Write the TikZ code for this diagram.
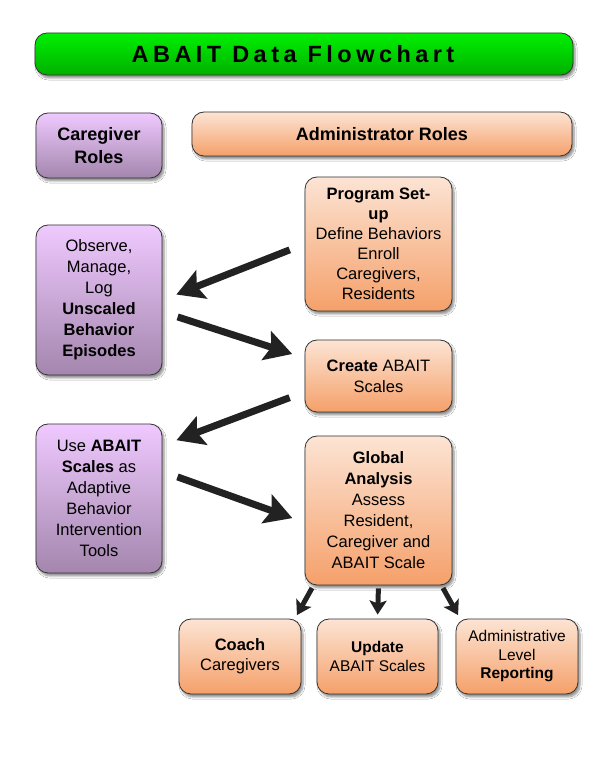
\documentclass[tikz,border=0pt]{standalone}
\usepackage{fontspec}
\setmainfont{Liberation Sans}
\newfontfamily\titlefont{Liberation Sans}[LetterSpace=19]
\usetikzlibrary{arrows.meta,shadows.blur,calc}
\definecolor{orTop}{HTML}{FCE4D4}
\definecolor{orBot}{HTML}{F5A06A}
\definecolor{puTop}{HTML}{EFC9FF}
\definecolor{puBot}{HTML}{A386AD}
\definecolor{grTop}{HTML}{00F000}
\definecolor{grBot}{HTML}{00B000}
\definecolor{arrowc}{HTML}{222222}
\begin{document}
\begin{tikzpicture}[x=1pt,y=1pt,
  box/.style={draw=black!80, line width=0.8pt, rounded corners=12pt, align=center, inner sep=2pt,
    blur shadow={shadow xshift=2pt,shadow yshift=-3pt,shadow blur steps=6,shadow opacity=45}},
  orangebox/.style={box, top color=orTop, bottom color=orBot},
  purplebox/.style={box, top color=puTop, bottom color=puBot},
  greenbox/.style={box, top color=grTop, bottom color=grBot},
  bodyfont/.style={font=\fontsize{16.5}{21}\selectfont},
  smallfont/.style={font=\fontsize{15.5}{18.5}\selectfont},
  bigarrow/.style={draw=arrowc, line width=7pt, -{Stealth[length=27pt,width=30pt,inset=5pt]}},
  smallarrow/.style={draw=arrowc, line width=5pt, -{Stealth[length=14pt,width=17pt,inset=3pt]}}
]
\useasboundingbox (0,0) rectangle (600,776);
\fill[white] (0,0) rectangle (600,776);

\node[greenbox, minimum width=538pt, minimum height=42pt] (title) at (304,722)
  {\titlefont\bfseries\fontsize{23.5}{27}\selectfont ABAIT Data Flowchart\hspace*{22pt}};

\node[purplebox, minimum width=126pt, minimum height=65pt, font=\fontsize{18}{23}\selectfont\bfseries] (care) at (99,630.5)
  {Caregiver\\Roles};
\node[orangebox, minimum width=380pt, minimum height=44pt, font=\fontsize{18}{23}\selectfont\bfseries] (admin) at (382,642)
  {Administrator Roles};

\node[orangebox, minimum width=147pt, minimum height=134pt, font=\fontsize{16.5}{20}\selectfont] (setup) at (378.5,532)
  {\textbf{Program Set-}\\\textbf{up}\\Define Behaviors\\Enroll\\Caregivers,\\Residents};

\node[purplebox, minimum width=126pt, minimum height=150pt, bodyfont] (observe) at (99,476)
  {Observe,\\Manage,\\Log\\\textbf{Unscaled}\\\textbf{Behavior}\\\textbf{Episodes}};

\node[orangebox, minimum width=147pt, minimum height=72pt, bodyfont] (create) at (378.5,400)
  {\textbf{Create} ABAIT\\Scales};

\node[purplebox, minimum width=126pt, minimum height=149pt, bodyfont] (use) at (99,277.5)
  {Use \textbf{ABAIT}\\\textbf{Scales} as\\Adaptive\\Behavior\\Intervention\\Tools};

\node[orangebox, minimum width=147pt, minimum height=149pt, bodyfont] (global) at (378.5,265.5)
  {\textbf{Global}\\\textbf{Analysis}\\Assess\\Resident,\\Caregiver and\\ABAIT Scale};

\node[orangebox, minimum width=122pt, minimum height=75pt, font=\fontsize{16.5}{20}\selectfont] (coach) at (240,119.5)
  {\textbf{Coach}\\Caregivers};
\node[orangebox, minimum width=121pt, minimum height=75pt, smallfont] (update) at (377.5,119.5)
  {\textbf{Update}\\ABAIT Scales};
\node[orangebox, minimum width=122pt, minimum height=75pt, smallfont] (report) at (517,119.5)
  {Administrative\\Level\\\textbf{Reporting}};

% big arrows
\draw[bigarrow, shorten <=16pt, shorten >=15pt] (setup.west) -- (observe.east);
\draw[bigarrow, shorten <=16pt, shorten >=13pt] ([yshift=-12pt]observe.east) -- ([yshift=18pt]create.west);
\draw[bigarrow, shorten <=16pt, shorten >=15pt] ([yshift=-16pt]create.west) -- ([yshift=53pt]use.east);
\draw[bigarrow, shorten <=16pt, shorten >=13pt] ([yshift=27pt]use.east) -- ([yshift=-12pt]global.west);

% small arrows
\draw[smallarrow, shorten <=3pt, shorten >=4pt] ([xshift=-65pt]global.south) -- ([xshift=55pt]coach.north);
\draw[smallarrow, shorten <=3pt, shorten >=4pt] (global.south) -- (update.north);
\draw[smallarrow, shorten <=3pt, shorten >=4pt] ([xshift=63pt]global.south) -- ([xshift=-57pt]report.north);
\end{tikzpicture}
\end{document}
